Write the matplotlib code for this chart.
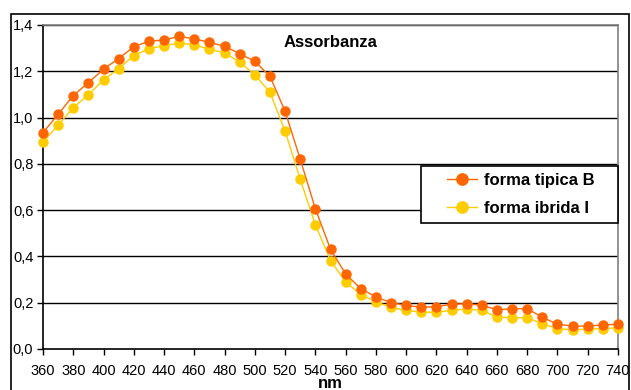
import matplotlib.pyplot as plt
import numpy as np
from matplotlib.ticker import FuncFormatter
from matplotlib.patches import Rectangle

plt.rcParams['font.family'] = ['Liberation Sans', 'DejaVu Sans']

nm = list(range(360, 750, 10))
tipica_B = [0.935, 1.014, 1.095, 1.151, 1.209, 1.255, 1.306, 1.330, 1.335, 1.351,
            1.340, 1.325, 1.308, 1.276, 1.243, 1.178, 1.027, 0.820, 0.606, 0.431,
            0.324, 0.261, 0.225, 0.200, 0.189, 0.180, 0.183, 0.193, 0.196, 0.189,
            0.170, 0.174, 0.174, 0.137, 0.107, 0.099, 0.099, 0.104, 0.107]
ibrida_I = [0.895, 0.967, 1.043, 1.099, 1.163, 1.211, 1.268, 1.298, 1.311, 1.322,
            1.314, 1.295, 1.280, 1.239, 1.185, 1.109, 0.941, 0.733, 0.537, 0.382,
            0.290, 0.235, 0.204, 0.180, 0.167, 0.159, 0.159, 0.167, 0.173, 0.167,
            0.138, 0.135, 0.135, 0.109, 0.088, 0.083, 0.086, 0.088, 0.092]

fig = plt.figure(figsize=(6.31, 3.90), dpi=100)
ax = fig.add_axes([43/631, 1 - 349/390, 575/631, 324/390])

# outer chart frame
fig.patches.append(Rectangle((11/631, -0.1), 618/631, 1 - 14/390 + 0.1,
                             transform=fig.transFigure, fill=False,
                             edgecolor='black', linewidth=1.2))

for y in np.arange(0.2, 1.41, 0.2):
    ax.axhline(y, color='black', linewidth=1.0, zorder=1)

ax.plot(nm, tipica_B, color='#FF6600', marker='o', markersize=6.5, linewidth=1.0,
        label='forma tipica B', zorder=4, clip_on=False)
ax.plot(nm, ibrida_I, color='#FFCC00', marker='o', markersize=6.5, linewidth=1.0,
        label='forma ibrida I', zorder=3, clip_on=False)

ax.set_xlim(360, 740)
ax.set_ylim(0, 1.4)
ax.set_xticks(range(360, 741, 20))
ax.set_yticks(np.arange(0, 1.41, 0.2))
ax.yaxis.set_major_formatter(FuncFormatter(lambda v, p: ('%.1f' % v).replace('.', ',')))
ax.tick_params(direction='out', length=4, width=1, labelsize=10.5)
ax.tick_params(axis='x', pad=7)
ax.tick_params(axis='y', pad=3)

for s in ['left', 'bottom']:
    ax.spines[s].set_color('black')
    ax.spines[s].set_linewidth(1.2)
for s in ['top', 'right']:
    ax.spines[s].set_color('#808080')
    ax.spines[s].set_linewidth(1.2)

ax.text(0.5, 0.97, 'Assorbanza', transform=ax.transAxes, ha='center', va='top',
        fontsize=12, fontweight='bold')
ax.set_xlabel('nm', fontsize=12, fontweight='bold', labelpad=-2)

# legend box (Excel style, wider than its content)
bx0, bx1 = (421 - 43) / 575, (618 - 43) / 575
by0, by1 = (349 - 223) / 324, (349 - 166) / 324
ax.add_patch(Rectangle((bx0, by0), bx1 - bx0, by1 - by0, transform=ax.transAxes,
                       facecolor='white', edgecolor='black', linewidth=1.2,
                       zorder=5, clip_on=False))
leg = ax.legend(loc='center', bbox_to_anchor=((bx0 + bx1) / 2 + 0.002, (by0 + by1) / 2),
                frameon=False, prop={'weight': 'bold', 'size': 12}, markerscale=1.25,
                handlelength=1.8, handletextpad=0.4, borderpad=0,
                labelspacing=0.75, borderaxespad=0)
leg.set_zorder(6)

fig.savefig('out.png', dpi=100)
